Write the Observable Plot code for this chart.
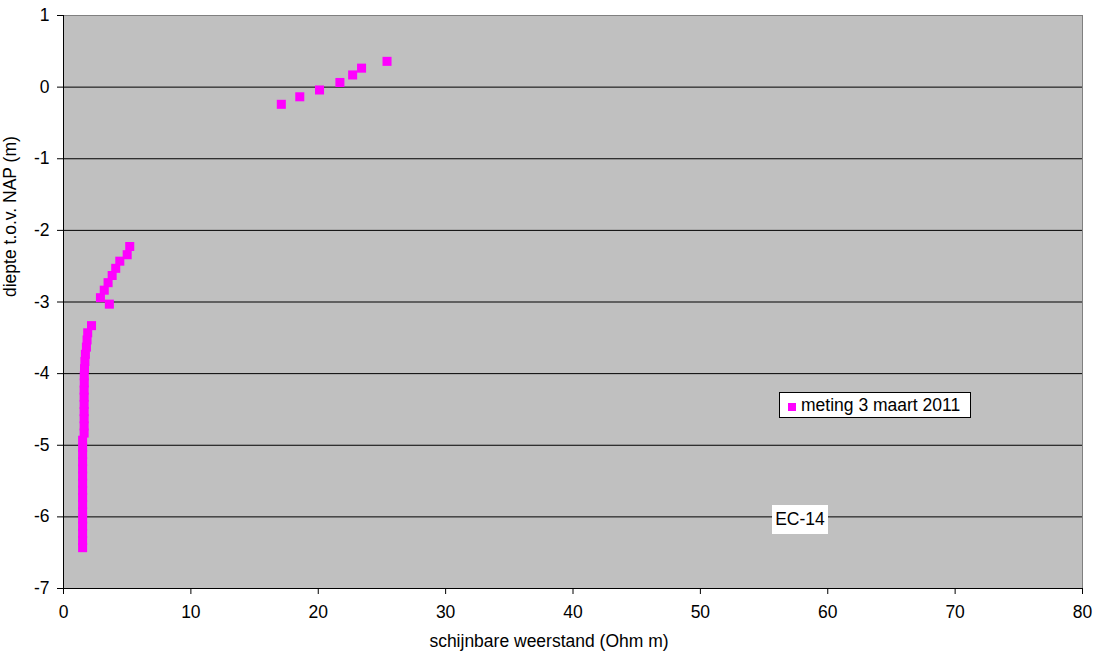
<!DOCTYPE html>
<html><head><meta charset="utf-8">
<script src="https://cdn.jsdelivr.net/npm/d3@7"></script>
<script src="https://cdn.jsdelivr.net/npm/@observablehq/plot@0.6"></script>
<style>
body{margin:0;background:#fff;font-family:"Liberation Sans",Arial,sans-serif;}
#wrap{position:relative;width:1106px;height:660px;overflow:hidden;}
#wrap svg{position:absolute;left:0;top:0;}
.legend{position:absolute;left:779px;top:392px;width:190px;height:24px;background:#fff;border:1px solid #000;font-size:17.5px;line-height:24px;white-space:nowrap;}
.legend .sw{display:inline-block;width:8px;height:8px;background:#ff00ff;margin:0 5px 0 8px;vertical-align:0px;}
.tag{position:absolute;left:772px;top:505px;width:56px;height:29px;background:#fff;font-size:17.5px;line-height:29px;text-align:center;}
</style></head><body><div id="wrap"></div>
<script>
const seriesName = "meting 3 maart 2011";
const boreholeLabel = "EC-14";
const xLabel = "schijnbare weerstand (Ohm m)";
const yLabel = "diepte t.o.v. NAP (m)";
const xTicks = [0, 10, 20, 30, 40, 50, 60, 70, 80];
const yTicks = [-7, -6, -5, -4, -3, -2, -1, 0, 1];

// depth (m NAP) and apparent resistivity (Ohm m)
const depth = [0.36, 0.265, 0.17, 0.065, -0.04, -0.135, -0.24,
  -2.225, -2.34, -2.43, -2.53, -2.63, -2.73, -2.835, -2.94, -3.03,
  -3.33, -3.43, -3.53, -3.63, -3.73, -3.83, -3.93, -4.03, -4.13, -4.23,
  -4.33, -4.43, -4.53, -4.63, -4.73, -4.83, -4.93, -5.03, -5.13, -5.23,
  -5.33, -5.43, -5.53, -5.63, -5.73, -5.83, -5.93, -6.03, -6.13, -6.23,
  -6.33, -6.43];
const resistance = [25.4, 23.4, 22.7, 21.7, 20.1, 18.55, 17.1,
  5.2, 5.0, 4.42, 4.1, 3.82, 3.5, 3.2, 2.9, 3.6,
  2.2, 1.9, 1.85, 1.8, 1.72, 1.68, 1.65, 1.63, 1.63, 1.62,
  1.62, 1.62, 1.62, 1.62, 1.62, 1.62, 1.5, 1.5, 1.5, 1.5,
  1.5, 1.5, 1.5, 1.5, 1.5, 1.5, 1.5, 1.5, 1.5, 1.5,
  1.5, 1.5];

const data = depth.map((d, i) => ({depth: d, r: resistance[i]}));
const fmt = d => String(d);

const chart = Plot.plot({
  width: 1106, height: 660,
  marginLeft: 63, marginRight: 24, marginTop: 15, marginBottom: 72,
  style: {fontFamily: "'Liberation Sans', Arial, sans-serif", fontSize: "17.5px", color: "#000", background: "transparent", overflow: "visible"},
  x: {domain: [0, 80]},
  y: {domain: [-7, 1]},
  marks: [
    Plot.frame({fill: "#c0c0c0", stroke: "#808080"}),
    Plot.ruleY(yTicks.filter(t => t > -7 && t < 1), {stroke: "#000", strokeWidth: 1}),
    Plot.axisX({ticks: xTicks, tickSize: 6, tickPadding: 11, label: null, tickFormat: fmt, stroke: "#000"}),
    Plot.axisY({ticks: yTicks, tickSize: 6, tickPadding: 8, label: null, tickFormat: fmt, stroke: "#000"}),
    Plot.ruleX([0], {stroke: "#000"}),
    Plot.ruleY([-7], {stroke: "#000"}),
    Plot.dot(data, {x: "r", y: "depth", symbol: "square", r: 5.1, fill: "#ff00ff", stroke: "none"}),
    Plot.text([xLabel], {text: d => d, frameAnchor: "bottom", dy: 58, dx: -24, fill: "#000"}),
    Plot.text([yLabel], {text: d => d, frameAnchor: "left", rotate: -90, dx: -53, dy: -5, fill: "#000"})
  ]
});

const wrap = document.getElementById("wrap");
wrap.appendChild(chart);
const leg = document.createElement("div");
leg.className = "legend";
leg.innerHTML = `<span class="sw"></span>${seriesName}`;
wrap.appendChild(leg);
const tag = document.createElement("div");
tag.className = "tag";
tag.textContent = boreholeLabel;
wrap.appendChild(tag);
</script>
</body></html>
